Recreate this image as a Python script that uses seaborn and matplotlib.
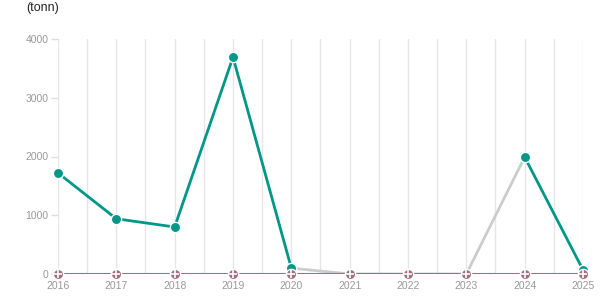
import matplotlib
matplotlib.use("Agg")
import matplotlib.pyplot as plt
import seaborn as sns
import numpy as np
import pandas as pd

years = [2016, 2017, 2018, 2019, 2020, 2021, 2022, 2023, 2024, 2025]
teal_values = [1720, 940, 800, 3690, 100, np.nan, np.nan, np.nan, 1990, 70]
gray_values = [np.nan, np.nan, np.nan, np.nan, 100, 0, 0, 0, 1990, np.nan]
maroon_values = [0, 0, 0, 0, 0, 0, 0, 0, 0, 0]
y_ticks = [0, 1000, 2000, 3000, 4000]
unit_label = "(tonn)"

sns.set_theme(style="white")
plt.rcParams['font.family'] = ['Liberation Sans', 'DejaVu Sans']

fig = plt.figure(figsize=(6.15, 3.05), dpi=100)
ax = fig.add_axes([58/615, 1-274/305, (583-58)/615, (274-39)/305])

df = pd.DataFrame({"year": years, "teal": teal_values, "gray": gray_values, "maroon": maroon_values})

# vertical grid lines at every half year
for gx in np.arange(2016, 2025.01, 0.5):
    ax.axvline(gx, color="#e6e6e6", lw=1, zorder=0)

sns.lineplot(data=df, x="year", y="gray", ax=ax, color="#cccccc", lw=2, zorder=2)
ax.plot(df["year"], df["teal"], color="#009688", lw=2, zorder=3)
sns.scatterplot(data=df, x="year", y="teal", ax=ax, color="#009688", s=55,
                edgecolor="white", linewidth=1, zorder=4, clip_on=False)
sns.lineplot(data=df, x="year", y="maroon", ax=ax, color="#a06f7e", lw=1.5, zorder=5)
sns.scatterplot(data=df, x="year", y="maroon", ax=ax, color="#a06f7e", s=55,
                edgecolor="white", linewidth=1, zorder=6, clip_on=False)
ax.scatter(df["year"], df["maroon"], marker="+", color="white", s=36, linewidths=1.2,
           zorder=7, clip_on=False)

ax.set_xlim(2016, 2025)
ax.set_ylim(0, 4000)
ax.set_xticks(years)
ax.set_xticklabels([str(y) for y in years])
ax.set_yticks(y_ticks)
ax.set_xlabel("")
ax.set_ylabel("")
for s in ax.spines.values():
    s.set_visible(False)
ax.tick_params(axis="x", colors="#999999", labelsize=7.5, length=0, pad=5)
ax.tick_params(axis="y", colors="#dddddd", labelcolor="#999999", labelsize=7.5, length=5, width=1, pad=2, left=True)
if ax.get_legend():
    ax.get_legend().remove()

fig.text(26/615, 1-8/305, unit_label, fontsize=9, color="#222222", va="center", ha="left")

fig.savefig("out.png", dpi=100)
